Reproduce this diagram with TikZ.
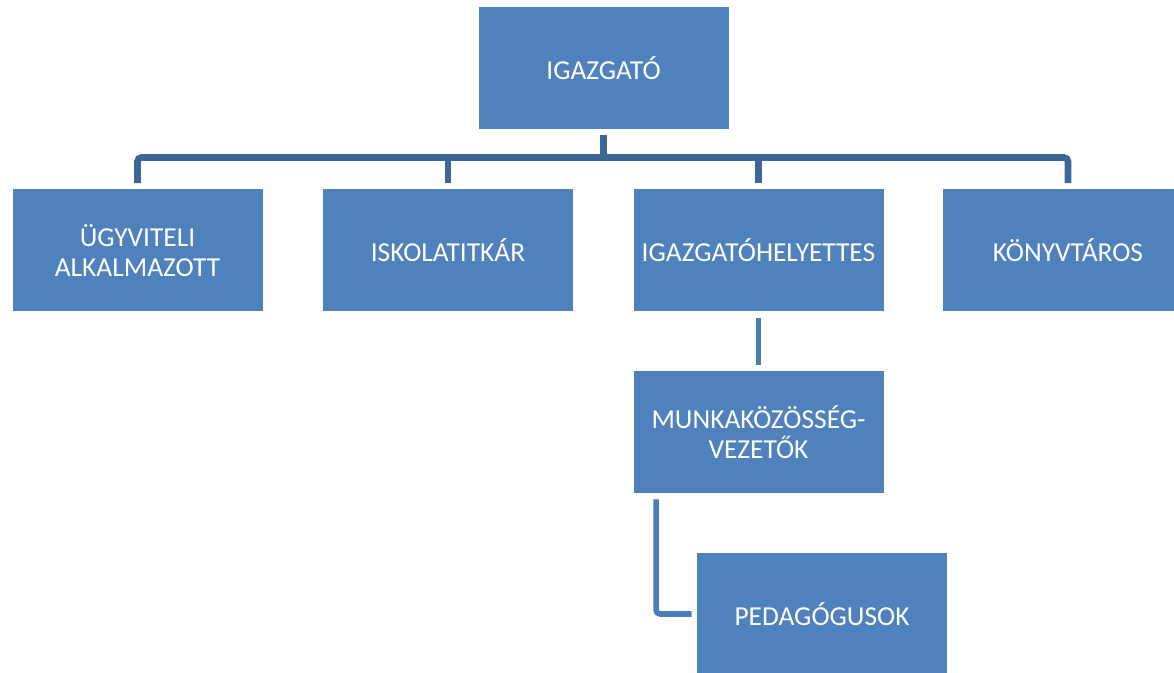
\documentclass[tikz,border=0pt]{standalone}
\usepackage{fontspec}
\setmainfont{Carlito}
\definecolor{boxblue}{RGB}{79,129,189}
\definecolor{linedark}{RGB}{61,101,150}
\definecolor{linelight}{RGB}{74,126,187}

\begin{document}
\begin{tikzpicture}[x=0.5pt,y=-0.5pt,font=\fontsize{13.7}{15}\selectfont,
  unit/.style={fill=boxblue,text=white,align=center,inner sep=0pt,
    minimum width=125pt,minimum height=61pt},
  bus/.style={linedark,line width=3.3pt,rounded corners=2pt},
  link/.style={linelight,line width=2.8pt,rounded corners=2pt}]
  \clip (0,0) rectangle (1174,673);

  \node [unit] (igaz) at (603.5,68) {IGAZGATÓ};
  \node [unit] (ugy) at (137.5,250.5) {ÜGYVITELI\\ALKALMAZOTT};
  \node [unit] (isk) at (448,250.5) {ISKOLATITKÁR};
  \node [unit] (hely) at (758.5,250.5) {IGAZGATÓHELYETTES};
  \node [unit] (konyv) at (1068,250.5) {KÖNYVTÁROS};
  \node [unit] (munka) at (758.5,432) {MUNKAKÖZÖSSÉG-\\VEZETŐK};
  \node [unit] (ped) at (822,614) {PEDAGÓGUSOK};

  \coordinate (bus) at (603.5,157.5);

  \draw [bus] ([yshift=-3pt]igaz.south) -- (bus);
  \draw [bus] ([yshift=3pt]ugy.north) |- (bus) -| ([yshift=3pt]konyv.north);
  \draw [bus] ([yshift=3pt]isk.north) -- (isk.north |- bus);
  \draw [bus] ([yshift=3pt]hely.north) -- (hely.north |- bus);

  \draw [link] ([yshift=-3pt]hely.south) -- ([yshift=3pt]munka.north);
  \draw [link] ([xshift=11.5pt,yshift=-3pt]munka.south west) |- ([xshift=-2.5pt]ped.west);
\end{tikzpicture}
\end{document}
